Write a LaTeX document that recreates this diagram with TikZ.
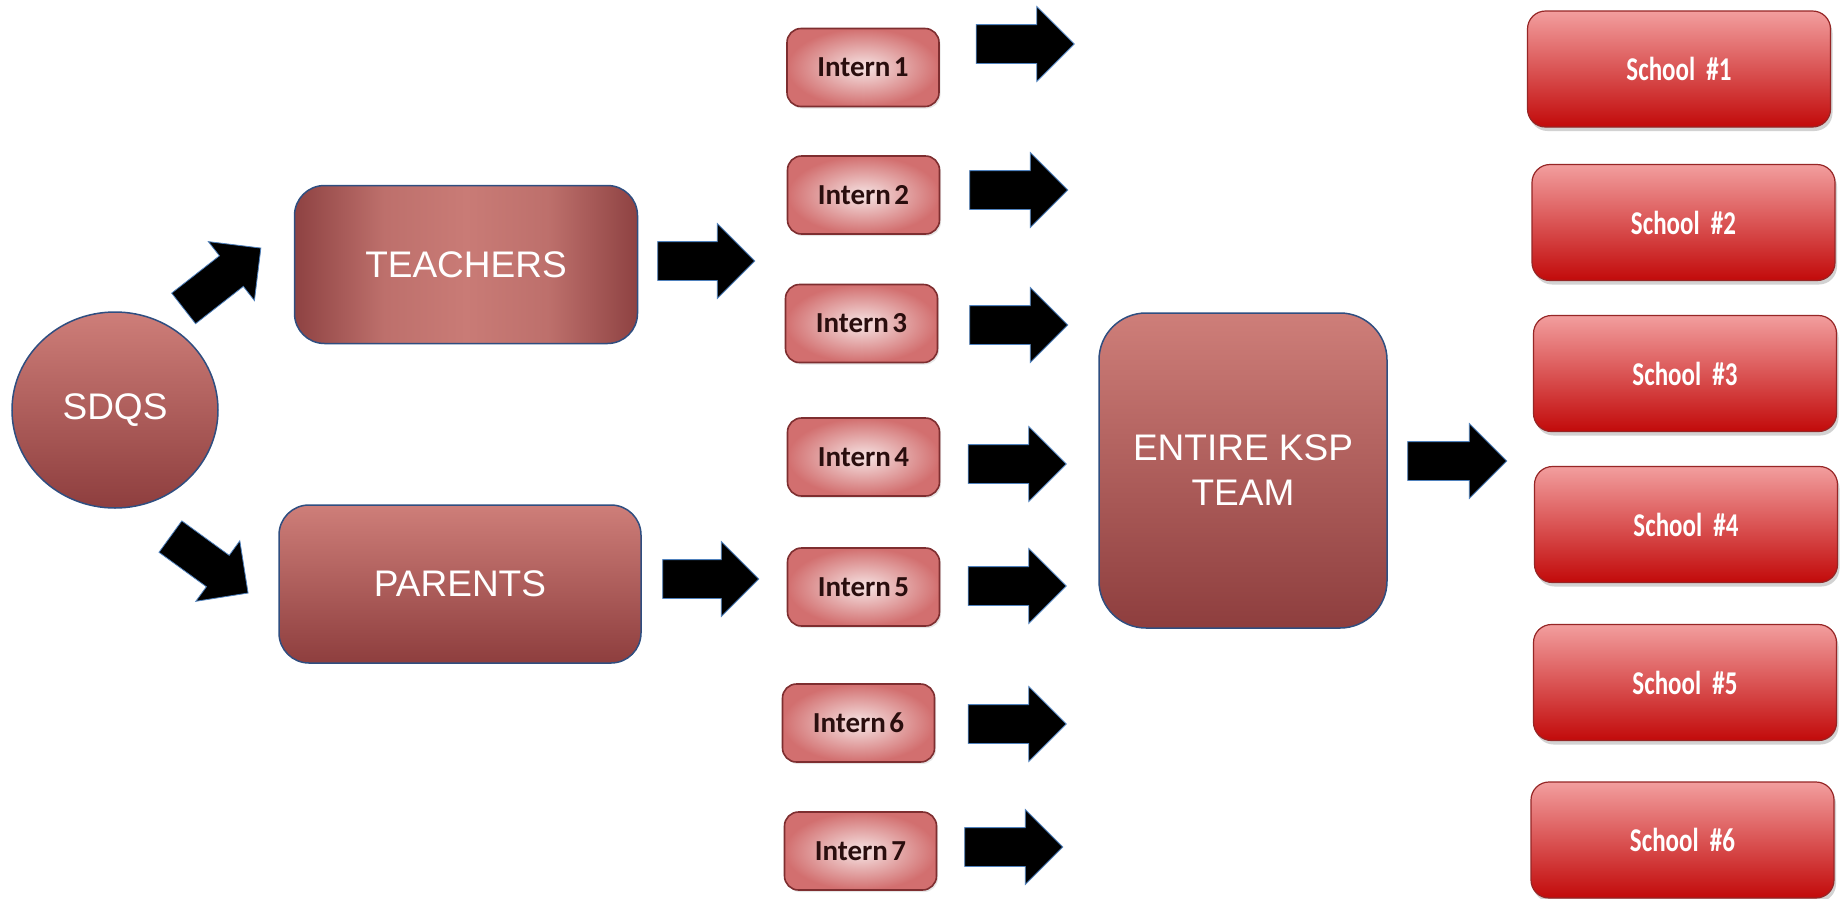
\documentclass[tikz,border=0pt]{standalone}
\usepackage{fontspec}
\usepackage{graphicx}
\setmainfont{Liberation Sans}
\newfontfamily\calib{Carlito}
\usetikzlibrary{shapes.arrows,shapes.geometric,shadows}
\definecolor{bigtop}{HTML}{CE7E79}
\definecolor{bigbot}{HTML}{8E3E3E}
\definecolor{teachedge}{HTML}{8E4242}
\definecolor{teachmid}{HTML}{C97B76}
\definecolor{edgeblue}{HTML}{2F4E80}
\definecolor{interninner}{HTML}{F6E4E4}
\definecolor{internouter}{HTML}{D26F6F}
\definecolor{internedge}{HTML}{7E2E30}
\definecolor{interntext}{HTML}{2A0E0E}
\definecolor{schooltop}{HTML}{F29E9E}
\definecolor{schoolmid}{HTML}{DE7474}
\definecolor{schoolbot}{HTML}{C20A0A}
\definecolor{schooledge}{HTML}{962626}
\definecolor{arrowedge}{HTML}{4F81BD}
\pgfdeclarehorizontalshading{teachshade}{100bp}{color(0bp)=(teachedge); color(25bp)=(teachedge); color(38bp)=(teachmid!80!teachedge); color(50bp)=(teachmid); color(62bp)=(teachmid!80!teachedge); color(75bp)=(teachedge); color(100bp)=(teachedge)}
\begin{document}
\begin{tikzpicture}[x=1pt,y=-1pt,
  big/.style={draw=edgeblue, line width=1.5pt, text=white,
    font=\fontsize{37}{45}\selectfont, align=center, inner sep=0pt},
  bigbox/.style={big, rectangle, rounded corners=30pt, top color=bigtop, bottom color=bigbot},
  internbox/.style={rectangle, rounded corners=14pt, draw=internedge, line width=1.6pt,
    inner color=interninner, outer color=internouter, minimum width=152pt, minimum height=78pt,
    text=interntext, font=\calib\bfseries\fontsize{29}{29}\selectfont, inner sep=0pt,
    drop shadow={opacity=0.2, shadow xshift=1.5pt, shadow yshift=-2pt}},
  schoolbox/.style={rectangle, rounded corners=18pt, draw=schooledge, line width=1.2pt,
    top color=schooltop, middle color=schoolmid, bottom color=schoolbot,
    minimum width=303pt, minimum height=116pt, text=white,
    font=\calib\bfseries\fontsize{25}{25}\selectfont, inner sep=0pt,
    drop shadow={opacity=0.35, shadow xshift=2pt, shadow yshift=-4pt}},
  barrow/.style={single arrow, fill=black, draw=arrowedge, line width=0.8pt, inner sep=0pt,
    text height=19pt, text depth=19pt, text width=0pt, single arrow head extend=18pt,
    single arrow head indent=0pt, single arrow tip angle=90}
]
\useasboundingbox (0,0) rectangle (1845,898);
\fill[white] (0,0) rectangle (1845,898);

% main nodes
\node[big, ellipse, minimum width=206pt, minimum height=196pt, top color=bigtop, bottom color=bigbot] (sdqs) at (115,410) {SDQS};
\node[big, rectangle, rounded corners=30pt, shading=teachshade, minimum width=343pt, minimum height=158pt] (teachers) at (466,264.5) {TEACHERS};
\node[bigbox, minimum width=362pt, minimum height=158pt] (parents) at (460,584) {PARENTS};
\node[bigbox, rounded corners=47pt, minimum width=288pt, minimum height=315pt] (ksp) at (1243,470.5) {ENTIRE KSP\\TEAM};

% interns
\node[internbox] (i1) at (863,67.5) {Intern\hspace{0.12em}1};
\node[internbox] (i2) at (863.5,195) {Intern\hspace{0.12em}2};
\node[internbox] (i3) at (861.5,323.5) {Intern\hspace{0.12em}3};
\node[internbox] (i4) at (863.5,457) {Intern\hspace{0.12em}4};
\node[internbox] (i5) at (863.5,587) {Intern\hspace{0.12em}5};
\node[internbox] (i6) at (858.5,723) {Intern\hspace{0.12em}6};
\node[internbox] (i7) at (860.5,851) {Intern\hspace{0.12em}7};

% schools
\node[schoolbox] (s1) at (1679,69) {\scalebox{1}[1.33]{School\hspace{0.45em}\#1}};
\node[schoolbox] (s2) at (1683.5,222.5) {\scalebox{1}[1.33]{School\hspace{0.45em}\#2}};
\node[schoolbox] (s3) at (1685,373.5) {\scalebox{1}[1.33]{School\hspace{0.45em}\#3}};
\node[schoolbox] (s4) at (1686,524.5) {\scalebox{1}[1.33]{School\hspace{0.45em}\#4}};
\node[schoolbox] (s5) at (1685,682.5) {\scalebox{1}[1.33]{School\hspace{0.45em}\#5}};
\node[schoolbox] (s6) at (1682.5,840) {\scalebox{1}[1.33]{School\hspace{0.45em}\#6}};

% block arrows
\node[barrow, minimum height=98pt, rotate=38] (aT) at (214.6,284.2) {};
\node[barrow, minimum height=96pt, rotate=-36] (aP) at (201.4,559.1) {};
\node[barrow, minimum height=97pt] (bT) at (696.5,261) {};
\node[barrow, minimum height=96pt] (bP) at (701,579) {};
\node[barrow, minimum height=98pt] (c1) at (1015.5,44) {};
\node[barrow, minimum height=98pt] (c2) at (1009,190) {};
\node[barrow, minimum height=98pt] (c3) at (1009,325) {};
\node[barrow, minimum height=98pt] (c4) at (1007.5,464) {};
\node[barrow, minimum height=98pt] (c5) at (1007.5,586) {};
\node[barrow, minimum height=98pt] (c6) at (1007.5,724) {};
\node[barrow, minimum height=98pt] (c7) at (1004,847) {};
\node[barrow, minimum height=99pt] (ck) at (1447.5,461) {};
\end{tikzpicture}
\end{document}
